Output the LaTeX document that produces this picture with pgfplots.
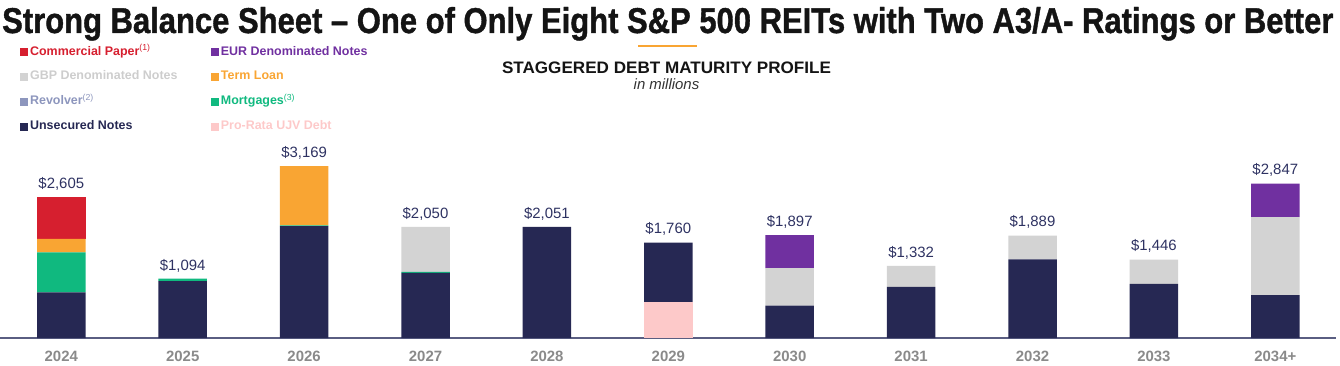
\documentclass[border=0pt]{standalone}
\usepackage{fontspec}
\setmainfont{Liberation Sans}
\newfontfamily\titlefont[FakeBold=1.2]{Liberation Sans Bold}
\usepackage{pgfplots}
\pgfplotsset{compat=1.18}
\definecolor{cnavy}{RGB}{38,40,83}
\definecolor{cgreen}{RGB}{16,185,127}
\definecolor{corange}{RGB}{249,165,51}
\definecolor{cred}{RGB}{214,31,47}
\definecolor{cgray}{RGB}{211,211,211}
\definecolor{cgraytxt}{RGB}{205,205,205}
\definecolor{cpurple}{RGB}{112,48,160}
\definecolor{cpink}{RGB}{253,201,201}
\definecolor{crev}{RGB}{141,150,189}
\definecolor{axisc}{RGB}{90,94,130}
\definecolor{tickgray}{RGB}{138,138,138}
\definecolor{valnavy}{RGB}{46,50,98}
\definecolor{titlec}{RGB}{20,20,20}
\pgfplotsset{base/.style={scale only axis, width=1336bp, height=198bp,
  xmin=-0.505, xmax=10.5, ymin=0, ymax=3653, clip=false}}
\begin{document}
\begin{tikzpicture}
\useasboundingbox (0,-28bp) rectangle (1340bp,338bp);
% title and subtitle
\node[anchor=base west, inner sep=0, text=titlec] at (2bp,305bp)
  {\resizebox{1331bp}{26bp}{\titlefont Strong Balance Sheet – One of Only Eight S\&P 500 REITs with Two A3/A- Ratings or Better}};
\draw[corange, line width=1.6bp] (638bp,292bp) -- (697bp,292bp);
\node[anchor=base, inner sep=0, text=titlec] at (666.5bp,264.5bp)
  {\resizebox{329bp}{11.6bp}{\bfseries STAGGERED DEBT MATURITY PROFILE}};
\node[anchor=base, inner sep=0, text=black!80] at (666.5bp,248bp)
  {\fontsize{15}{18}\selectfont\itshape in millions};
\begin{axis}[base,
  ybar stacked, bar width=48.5bp,
  axis x line*=bottom, axis y line=none,
  x axis line style={color=axisc, line width=1.5bp, -},
  xtick={0,...,10},
  xticklabels={2024,2025,2026,2027,2028,2029,2030,2031,2032,2033,2034+},
  xtick style={draw=none},
  xticklabel style={font=\bfseries\fontsize{15}{18}\selectfont, text=tickgray, anchor=base, yshift=-23.7bp, inner sep=0},
  sq/.style={legend image code/.code={\fill[#1] (0bp,-3.5bp) rectangle (7bp,3.5bp);}},
  legend columns=2,
  legend cell align=left,
  legend style={at={(axis description cs:0.0150,1.48)}, anchor=north west, draw=none, fill=none, inner sep=0,
    font=\bfseries\fontsize{12.5}{14}\selectfont,
    nodes={inner ysep=1bp, inner xsep=2.5bp, text height=9bp, text depth=3bp},
    row sep=10.7bp,
    /tikz/every even column/.append style={column sep=31bp}},
]
\addlegendimage{sq=cred}\addlegendentry{\textcolor{cred}{Commercial Paper\textsuperscript{\mdseries(1)}}}
\addlegendimage{sq=cpurple}\addlegendentry{\textcolor{cpurple}{EUR Denominated Notes}}
\addlegendimage{sq=cgray}\addlegendentry{\textcolor{cgraytxt}{GBP Denominated Notes}}
\addlegendimage{sq=corange}\addlegendentry{\textcolor{corange}{Term Loan}}
\addlegendimage{sq=crev}\addlegendentry{\textcolor{crev}{Revolver\textsuperscript{\mdseries(2)}}}
\addlegendimage{sq=cgreen}\addlegendentry{\textcolor{cgreen}{Mortgages\textsuperscript{\mdseries(3)}}}
\addlegendimage{sq=cnavy}\addlegendentry{\textcolor{cnavy}{Unsecured Notes}}
\addlegendimage{sq=cpink}\addlegendentry{\textcolor{cpink}{Pro-Rata UJV Debt}}
% Pro-Rata UJV Debt
\addplot[fill=cpink, draw=none] coordinates {(0,0) (1,0) (2,0) (3,0) (4,0) (5,661) (6,0) (7,0) (8,0) (9,0) (10,0)};
% Unsecured Notes
\addplot[fill=cnavy, draw=none] coordinates {(0,842) (1,1050) (2,2064) (3,1200) (4,2051) (5,1099) (6,597) (7,945) (8,1450) (9,997) (10,793)};
% Mortgages
\addplot[fill=cgreen, draw=none] coordinates {(0,737) (1,44) (2,15) (3,20) (4,0) (5,0) (6,0) (7,0) (8,0) (9,0) (10,0)};
% Revolver
\addplot[fill=crev, draw=none] coordinates {(0,0) (1,0) (2,0) (3,0) (4,0) (5,0) (6,0) (7,0) (8,0) (9,0) (10,0)};
% GBP Denominated Notes
\addplot[fill=cgray, draw=none] coordinates {(0,0) (1,0) (2,0) (3,830) (4,0) (5,0) (6,690) (7,387) (8,439) (9,449) (10,1439)};
% Term Loan
\addplot[fill=corange, draw=none] coordinates {(0,252) (1,0) (2,1090) (3,0) (4,0) (5,0) (6,0) (7,0) (8,0) (9,0) (10,0)};
% EUR Denominated Notes
\addplot[fill=cpurple, draw=none] coordinates {(0,0) (1,0) (2,0) (3,0) (4,0) (5,0) (6,610) (7,0) (8,0) (9,0) (10,615)};
% Commercial Paper
\addplot[fill=cred, draw=none] coordinates {(0,774) (1,0) (2,0) (3,0) (4,0) (5,0) (6,0) (7,0) (8,0) (9,0) (10,0)};
\end{axis}
% totals, on an identical overlaid axis
\begin{axis}[base, hide axis]
\addplot[only marks, mark=none, point meta=explicit symbolic,
  nodes near coords={\$\pgfplotspointmeta},
  nodes near coords style={font=\fontsize{15}{18}\selectfont, text=valnavy, anchor=base, yshift=8.7bp, inner sep=0}]
  coordinates {(0,2605) [2,605] (1,1094) [1,094] (2,3169) [3,169] (3,2050) [2,050] (4,2051) [2,051] (5,1760) [1,760] (6,1897) [1,897] (7,1332) [1,332] (8,1889) [1,889] (9,1446) [1,446] (10,2847) [2,847]};
\end{axis}
\end{tikzpicture}
\end{document}
